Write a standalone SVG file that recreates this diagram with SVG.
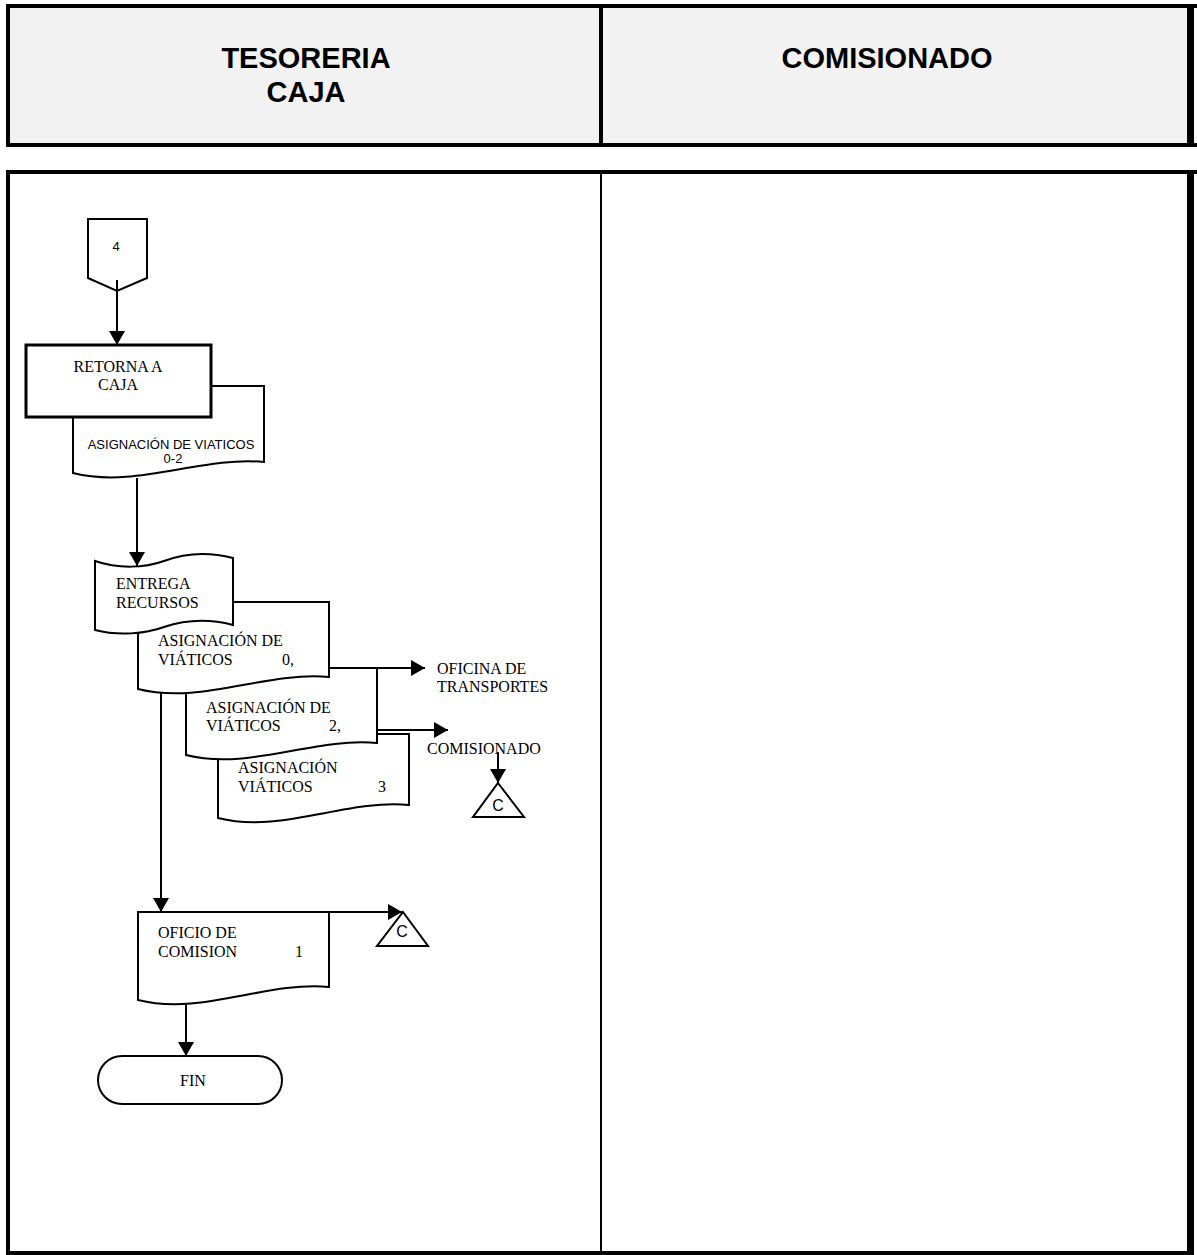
<svg xmlns="http://www.w3.org/2000/svg" width="1197" height="1255" viewBox="0 0 1197 1255">
<style>
.frame{stroke:#000;fill:none}
.shape{fill:#fff;stroke:#000;stroke-width:2}
.conn{fill:none;stroke:#000;stroke-width:2}
.hdr{font-family:"Liberation Sans",Arial,sans-serif;font-weight:bold;font-size:29px;text-anchor:middle}
.lbl{font-family:"Liberation Serif","Times New Roman",serif;font-size:16px}
.sans{font-family:"Liberation Sans",Arial,sans-serif;font-size:13px}
.csym{font-family:"Liberation Sans",Arial,sans-serif;font-size:16px;text-anchor:middle}
</style>
<defs>
<marker id="arr" viewBox="0 0 14 16" refX="14" refY="8" markerWidth="14" markerHeight="16" markerUnits="userSpaceOnUse" orient="auto">
<path d="M0,0 L14,8 L0,16 Z" fill="#000"/>
</marker>
</defs>
<rect width="1197" height="1255" fill="#fff"/>
<g id="header">
<rect x="8" y="6" width="1183" height="139" fill="#f2f2f2"/>
<line class="frame" x1="6" y1="6" x2="1197" y2="6" stroke-width="4"/>
<line class="frame" x1="6" y1="145" x2="1197" y2="145" stroke-width="4"/>
<line class="frame" x1="8" y1="4" x2="8" y2="147" stroke-width="4"/>
<line class="frame" x1="1190.5" y1="4" x2="1190.5" y2="147" stroke-width="7"/>
<line class="frame" x1="601" y1="4" x2="601" y2="147" stroke-width="4"/>
<text class="hdr" x="306" y="68">TESORERIA</text>
<text class="hdr" x="306" y="102">CAJA</text>
<text class="hdr" x="887" y="68">COMISIONADO</text>
</g>
<g id="body">
<line class="frame" x1="6" y1="172" x2="1197" y2="172" stroke-width="4"/>
<line class="frame" x1="6" y1="1253" x2="1194" y2="1253" stroke-width="4"/>
<line class="frame" x1="8" y1="170" x2="8" y2="1255" stroke-width="4"/>
<line class="frame" x1="1190.5" y1="170" x2="1190.5" y2="1255" stroke-width="7"/>
<line class="frame" x1="601" y1="172" x2="601" y2="1253" stroke-width="2"/>
</g>
<g id="n4">
<path class="shape" d="M88,219 H147 V278 L117,291 L88,278 Z"/>
<text class="sans" x="116" y="251" text-anchor="middle">4</text>
</g>
<g id="doc02">
<path class="shape" d="M73,386 H264 V462 C201,456 136,489 73,473 Z"/>
<text class="sans" x="171" y="449" text-anchor="middle">ASIGNACIÓN DE VIATICOS</text>
<text class="sans" x="173" y="463" text-anchor="middle">0-2</text>
</g>
<g id="retorna">
<rect x="26" y="345" width="185" height="72" fill="#fff" stroke="#000" stroke-width="3"/>
<text class="lbl" x="118" y="372" text-anchor="middle">RETORNA A</text>
<text class="lbl" x="118" y="390" text-anchor="middle">CAJA</text>
</g>
<g id="doc3">
<path class="shape" d="M218,734 H409 V805 C346,799 281,834 218,818 Z"/>
<text class="lbl" x="238" y="773">ASIGNACIÓN</text>
<text class="lbl" x="238" y="792">VIÁTICOS</text>
<text class="lbl" x="378" y="792">3</text>
</g>
<g id="doc2">
<path class="shape" d="M186,668 H377 V743 C314,737 249,771 186,755 Z"/>
<text class="lbl" x="206" y="713">ASIGNACIÓN DE</text>
<text class="lbl" x="206" y="731">VIÁTICOS</text>
<text class="lbl" x="329" y="731">2,</text>
</g>
<g id="doc0">
<path class="shape" d="M138,602 H329 V677 C266,671 201,705 138,689 Z"/>
<text class="lbl" x="158" y="646">ASIGNACIÓN DE</text>
<text class="lbl" x="158" y="665">VIÁTICOS</text>
<text class="lbl" x="282" y="665">0,</text>
</g>
<g id="entrega">
<path class="shape" d="M95,561 C118,569 145,568 164,561 C185,553 210,552 233,558 V625 C210,619 185,620 164,627 C145,634 118,636 95,630 Z"/>
<text class="lbl" x="116" y="589">ENTREGA</text>
<text class="lbl" x="116" y="608">RECURSOS</text>
</g>
<g id="oficina">
<text class="lbl" x="437" y="674">OFICINA DE</text>
<text class="lbl" x="437" y="692">TRANSPORTES</text>
</g>
<g id="comisionado">
<text class="lbl" x="427" y="754">COMISIONADO</text>
</g>
<g id="c1">
<path class="shape" d="M498,783 L524,817 L473,817 Z"/>
<text class="csym" x="498" y="811">C</text>
</g>
<g id="oficio">
<path class="shape" d="M138,912 H329 V987 C266,981 201,1016 138,1000 Z"/>
<text class="lbl" x="158" y="938">OFICIO DE</text>
<text class="lbl" x="158" y="957">COMISION</text>
<text class="lbl" x="295" y="957">1</text>
</g>
<g id="c2">
<path class="shape" d="M403,912 L428,946 L377,946 Z"/>
<text class="csym" x="402" y="937">C</text>
</g>
<g id="fin">
<rect class="shape" x="98" y="1056" width="184" height="48" rx="24" ry="24"/>
<text class="lbl" x="193" y="1086" text-anchor="middle" font-size="15">FIN</text>
</g>
<g id="connectors">
<line class="conn" x1="117" y1="280" x2="117" y2="345" marker-end="url(#arr)"/>
<line class="conn" x1="137" y1="478" x2="137" y2="566" marker-end="url(#arr)"/>
<line class="conn" x1="329" y1="668" x2="425" y2="668" marker-end="url(#arr)"/>
<polyline class="conn" points="377,730 409,730 448,730" marker-end="url(#arr)"/>
<line class="conn" x1="498" y1="752" x2="498" y2="783" marker-end="url(#arr)"/>
<line class="conn" x1="161" y1="693" x2="161" y2="912" marker-end="url(#arr)"/>
<line class="conn" x1="329" y1="912" x2="402" y2="912" marker-end="url(#arr)"/>
<line class="conn" x1="186" y1="1004" x2="186" y2="1056" marker-end="url(#arr)"/>
</g>
</svg>
